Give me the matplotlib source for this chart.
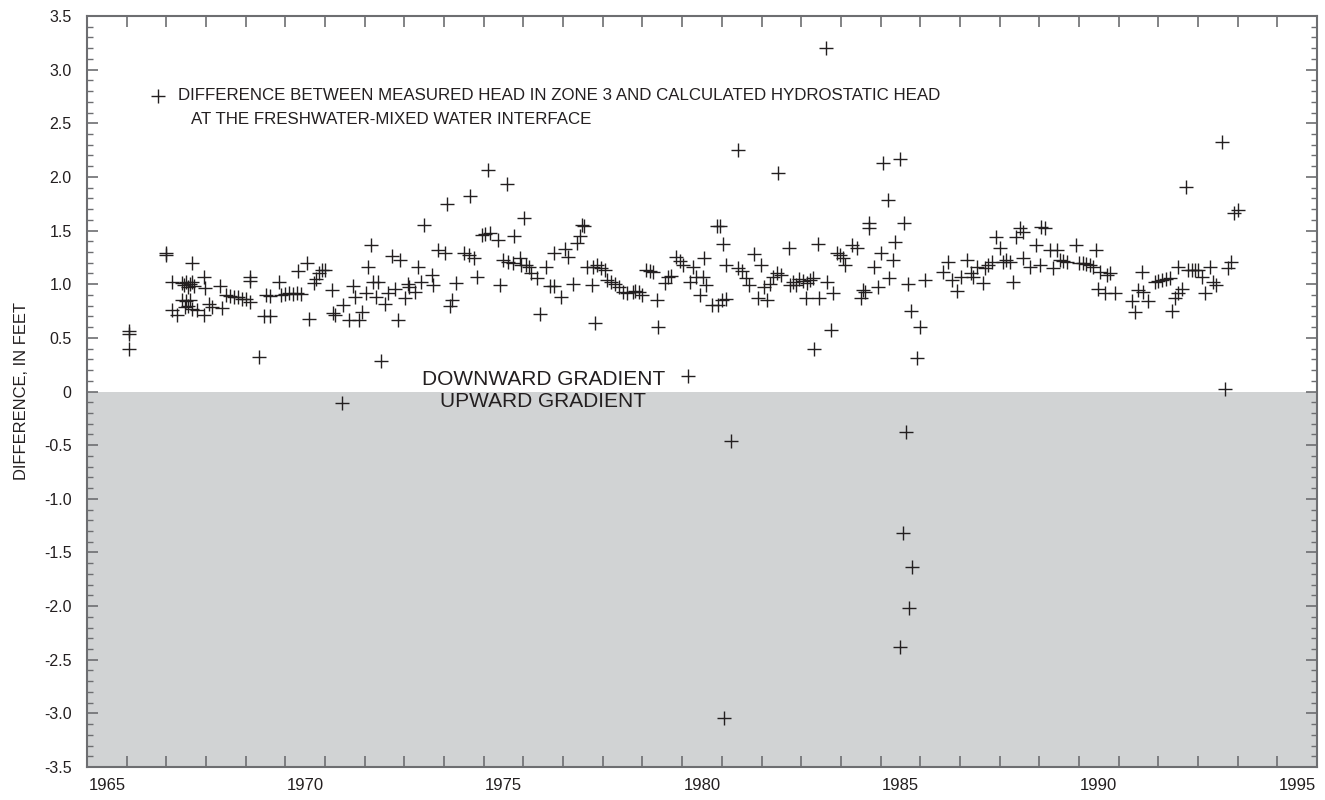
import numpy as np
import matplotlib
matplotlib.use("Agg")
import matplotlib.pyplot as plt

plt.rcParams['font.family'] = ['Liberation Sans', 'DejaVu Sans']

# decimal year of each measurement
years = [
    1966.07, 1966.07, 1966.07, 1966.99, 1966.99, 1967.14, 1967.14, 1967.28, 1967.40, 1967.45,
    1967.50, 1967.55, 1967.60, 1967.65, 1967.70, 1967.40, 1967.50, 1967.60, 1967.48, 1967.55,
    1967.65, 1967.78, 1967.65, 1967.94, 1967.96, 1967.97, 1968.07, 1968.15, 1968.34, 1968.40,
    1968.50, 1968.60, 1968.70, 1968.80, 1968.90, 1969.00, 1969.10, 1969.10, 1969.12, 1969.33,
    1969.45, 1969.60, 1969.50, 1969.62, 1969.83, 1969.90, 1970.00, 1970.10, 1970.20, 1970.30,
    1970.40, 1970.33, 1970.54, 1970.60, 1970.72, 1970.78, 1970.85, 1970.92, 1971.00, 1971.17,
    1971.26, 1971.20, 1971.42, 1971.46, 1971.60, 1971.85, 1971.71, 1971.76, 1971.92, 1972.03,
    1972.09, 1972.17, 1972.20, 1972.33, 1972.28, 1972.42, 1972.51, 1972.59, 1972.68, 1972.76,
    1972.85, 1972.89, 1973.01, 1973.08, 1973.12, 1973.26, 1973.34, 1973.42, 1973.50, 1973.69,
    1973.73, 1973.85, 1974.02, 1974.08, 1974.15, 1974.20, 1974.30, 1974.50, 1974.62, 1974.65,
    1974.75, 1974.82, 1974.95, 1975.02, 1975.11, 1975.15, 1975.37, 1975.40, 1975.49, 1975.59,
    1975.62, 1975.74, 1975.76, 1975.91, 1975.95, 1976.01, 1976.06, 1976.14, 1976.18, 1976.35,
    1976.42, 1976.57, 1976.67, 1976.77, 1976.76, 1976.95, 1977.05, 1977.13, 1977.24, 1977.34,
    1977.42, 1977.47, 1977.52, 1977.60, 1977.76, 1977.72, 1977.80, 1977.85, 1977.95, 1978.05,
    1978.10, 1978.20, 1978.30, 1978.40, 1978.50, 1978.62, 1978.75, 1978.80, 1978.90, 1979.00,
    1979.10, 1979.18, 1979.27, 1979.36, 1979.40, 1979.57, 1979.65, 1979.73, 1979.84, 1979.94,
    1980.03, 1980.15, 1980.20, 1980.28, 1980.36, 1980.45, 1980.52, 1980.60, 1980.56, 1980.75,
    1980.87, 1980.95, 1980.90, 1981.00, 1981.02, 1981.05, 1981.10, 1981.10, 1981.23, 1981.40,
    1981.40, 1981.50, 1981.60, 1981.68, 1981.82, 1981.90, 1981.98, 1982.05, 1982.15, 1982.22,
    1982.30, 1982.40, 1982.42, 1982.50, 1982.69, 1982.72, 1982.80, 1982.88, 1982.95, 1983.05,
    1983.12, 1983.15, 1983.22, 1983.30, 1983.33, 1983.43, 1983.45, 1983.62, 1983.66, 1983.74,
    1983.80, 1983.90, 1983.98, 1984.05, 1984.10, 1984.27, 1984.40, 1984.50, 1984.55, 1984.62,
    1984.72, 1984.72, 1984.84, 1984.94, 1985.00, 1985.07, 1985.18, 1985.22, 1985.32, 1985.36,
    1985.49, 1985.49, 1985.56, 1985.60, 1985.64, 1985.70, 1985.72, 1985.76, 1985.80, 1985.93,
    1986.00, 1986.12, 1986.58, 1986.71, 1986.79, 1986.92, 1987.04, 1987.17, 1987.29, 1987.33,
    1987.42, 1987.59, 1987.63, 1987.71, 1987.80, 1987.92, 1988.00, 1988.09, 1988.17, 1988.26,
    1988.34, 1988.42, 1988.51, 1988.59, 1988.59, 1988.76, 1988.93, 1989.05, 1989.14, 1989.02,
    1989.27, 1989.35, 1989.44, 1989.52, 1989.60, 1989.69, 1989.92, 1990.00, 1990.09, 1990.18,
    1990.27, 1990.36, 1990.43, 1990.49, 1990.53, 1990.66, 1990.70, 1990.78, 1990.91, 1991.33,
    1991.41, 1991.50, 1991.58, 1991.62, 1991.75, 1991.92, 1992.00, 1992.10, 1992.20, 1992.29,
    1992.34, 1992.42, 1992.50, 1992.50, 1992.59, 1992.70, 1992.76, 1992.84, 1992.92, 1993.00,
    1993.09, 1993.17, 1993.30, 1993.38, 1993.46, 1993.60, 1993.68, 1993.76, 1993.84, 1993.90,
    1994.00,
]

# difference, in feet
diff = [
    0.56, 0.54, 0.40, 1.29, 1.27, 1.02, 0.76, 0.71, 1.01, 0.99,
    1.02, 0.97, 1.00, 1.02, 0.98, 0.85, 0.84, 0.85, 0.79, 0.80,
    0.77, 0.76, 1.195, 0.71, 1.065, 0.965, 0.82, 0.79, 0.98, 0.78,
    0.90, 0.89, 0.88, 0.88, 0.86, 0.86, 0.83, 1.03, 1.07, 0.325,
    0.70, 0.70, 0.90, 0.89, 1.02, 0.90, 0.91, 0.92, 0.91, 0.92,
    0.91, 1.12, 1.195, 0.68, 1.01, 1.05, 1.10, 1.13, 1.13, 0.95,
    0.71, 0.73, -0.11, 0.81, 0.67, 0.67, 0.98, 0.885, 0.745, 0.92,
    1.16, 1.37, 1.02, 1.02, 0.885, 0.28, 0.82, 0.915, 1.26, 0.96,
    0.667, 1.226, 0.87, 1.00, 0.97, 0.93, 1.16, 1.02, 1.55, 1.086,
    0.99, 1.32, 1.29, 1.75, 0.80, 0.85, 1.01, 1.29, 1.27, 1.82,
    1.24, 1.065, 1.46, 1.47, 2.065, 1.48, 1.41, 0.99, 1.23, 1.93,
    1.21, 1.195, 1.45, 1.24, 1.18, 1.62, 1.18, 1.16, 1.10, 1.055,
    0.72, 1.164, 0.984, 0.984, 1.294, 0.884, 1.326, 1.257, 1.00, 1.385,
    1.45, 1.55, 1.54, 1.164, 1.164, 0.993, 0.636, 1.18, 1.15, 1.13,
    1.04, 1.02, 1.00, 0.97, 0.93, 0.92, 0.93, 0.94, 0.93, 0.90,
    1.13, 1.12, 1.11, 0.853, 0.605, 1.01, 1.07, 1.08, 1.25, 1.22,
    1.18, 0.14, 1.02, 1.16, 1.07, 0.90, 1.07, 0.99, 1.24, 0.81,
    1.54, 1.54, 0.81, 0.85, 1.375, -3.04, 0.86, 1.18, -0.46, 2.25,
    1.15, 1.12, 1.06, 0.99, 1.28, 0.87, 1.18, 0.97, 0.85, 1.00,
    1.07, 1.10, 2.04, 1.09, 1.335, 0.99, 1.02, 0.99, 1.05, 1.03,
    0.87, 1.01, 1.04, 1.06, 0.40, 1.375, 0.87, 3.20, 1.024, 0.574,
    0.92, 1.29, 1.27, 1.24, 1.18, 1.37, 1.34, 0.87, 0.95, 0.93,
    1.57, 1.52, 1.164, 0.97, 1.29, 2.13, 1.785, 1.056, 1.226, 1.39,
    2.17, -2.38, -1.32, 1.57, -0.38, 1.00, -2.02, 0.754, -1.64, 0.31,
    0.605, 1.04, 1.11, 1.21, 1.04, 0.94, 1.07, 1.23, 1.10, 1.07,
    1.16, 1.01, 1.15, 1.18, 1.21, 1.44, 1.335, 1.21, 1.226, 1.21,
    1.024, 1.44, 1.52, 1.49, 1.24, 1.16, 1.366, 1.536, 1.52, 1.18,
    1.32, 1.15, 1.32, 1.226, 1.22, 1.21, 1.366, 1.20, 1.20, 1.19,
    1.18, 1.16, 1.32, 0.96, 1.117, 0.915, 1.087, 1.10, 0.915, 0.84,
    0.745, 0.947, 1.117, 0.93, 0.84, 1.02, 1.03, 1.04, 1.05, 1.055,
    0.754, 0.87, 0.915, 1.164, 0.96, 1.91, 1.133, 1.133, 1.133, 1.133,
    1.07, 0.92, 1.164, 1.02, 0.993, 2.33, 0.02, 1.15, 1.21, 1.66,
    1.69,
]

year_labels = list(range(1965, 1996, 5))
y_ticks = np.arange(-3.5, 3.51, 0.5)
y_labels = ['-3.5', '-3.0', '-2.5', '-2.0', '-1.5', '-1.0', '-0.5', '0',
            '0.5', '1.0', '1.5', '2.0', '2.5', '3.0', '3.5']

ink = '#231F20'
frame = '#6D6E71'

fig = plt.figure(figsize=(13.25, 8), dpi=100)
ax = fig.add_axes([87 / 1325, 33 / 800, 1230 / 1325, 751 / 800])

ax.axhspan(-3.5, 0, color='#D1D3D4', zorder=0, lw=0)
ax.plot(years, diff, linestyle='none', marker='+', markersize=10,
        markeredgewidth=1.0, color=ink, zorder=3)

ax.set_xlim(1965, 1996)
ax.set_ylim(-3.5, 3.5)

# year ticks at year boundaries, labels centred on the year
ax.set_xticks(np.arange(1965, 1997, 1), minor=True)
ax.set_xticks([y + 0.5 for y in year_labels])
ax.set_xticklabels([str(y) for y in year_labels])
ax.tick_params(axis='x', which='major', length=0, pad=8, labelsize=12, labelcolor=ink)
ax.tick_params(axis='x', which='minor', direction='in', length=8, width=1.2,
               color=frame, top=True, bottom=True)

ax.set_yticks(y_ticks)
ax.set_yticklabels(y_labels)
ax.set_yticks(np.arange(-3.5, 3.51, 0.1), minor=True)
ax.tick_params(axis='y', which='major', direction='in', length=8, width=1.2,
               color=frame, left=True, right=True, pad=11, labelsize=11.5,
               labelcolor=ink)
ax.tick_params(axis='y', which='minor', direction='in', length=4, width=1.0,
               color=frame, left=True, right=True)

for s in ax.spines.values():
    s.set_color(frame)
    s.set_linewidth(1.5)

ax.set_ylabel('DIFFERENCE, IN FEET', fontsize=11.9, labelpad=11, color=ink)

# explanation
ax.plot([0.0577], [0.8935], transform=ax.transAxes, marker='+', markersize=10,
        markeredgewidth=1.0, color=ink, linestyle='none')
ax.text(0.074, 0.8935, 'DIFFERENCE BETWEEN MEASURED HEAD IN ZONE 3 AND CALCULATED HYDROSTATIC HEAD',
        transform=ax.transAxes, fontsize=12.2, va='center', ha='left', color=ink)
ax.text(0.0846, 0.862, 'AT THE FRESHWATER-MIXED WATER INTERFACE',
        transform=ax.transAxes, fontsize=12.2, va='center', ha='left', color=ink)

ax.text(1976.5, 0.11, 'DOWNWARD GRADIENT', fontsize=15, ha='center', va='center', color=ink)
ax.text(1976.5, -0.095, 'UPWARD GRADIENT', fontsize=15, ha='center', va='center', color=ink)

fig.savefig('out.png', dpi=100)
